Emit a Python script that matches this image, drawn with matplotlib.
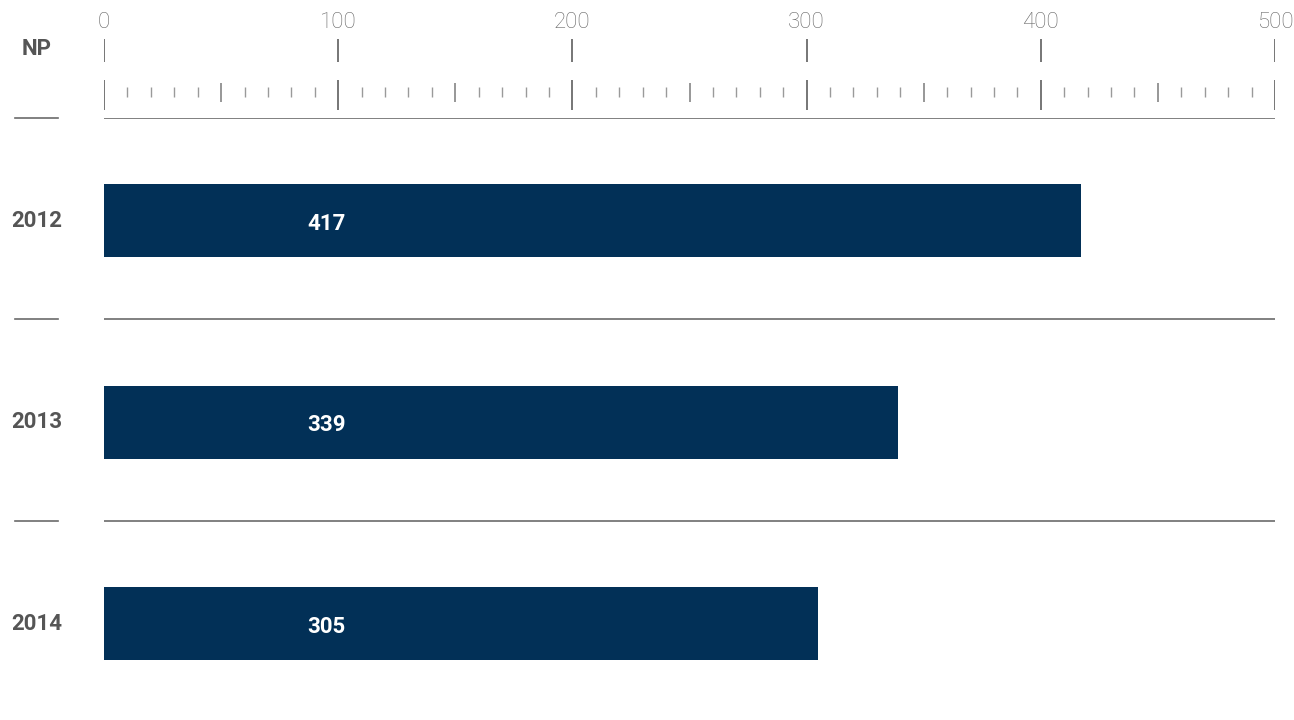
import matplotlib
matplotlib.use('Agg')
import matplotlib.pyplot as plt
import matplotlib.transforms as mtransforms
import numpy as np

plt.rcParams['font.family'] = ['Roboto', 'DejaVu Sans']

years = ['2012', '2013', '2014']
values = [417, 339, 305]
unit_label = 'NP'
major_ticks = [0, 100, 200, 300, 400, 500]

bar_color = '#023057'
line_color = '#6b6b6b'
text_color = '#555555'

W, H = 1294, 720
fig = plt.figure(figsize=(W / 100, H / 100), dpi=100)

x0, x1 = 104, 1275          # pixel span of the value axis
top = 118                   # baseline under the ruler
row_h = 201.5               # height of one year band
nudge = 2 / row_h           # bars sit a touch below the band centre

# main bar axes, rows counted downward from the baseline
ax = fig.add_axes([x0 / W, 0, (x1 - x0) / W, (H - top) / H])
ax.set_xlim(0, 500)
ax.set_ylim(-0.5 + (H - top) / row_h, -0.5)
ax.axis('off')

pos = np.arange(len(years))
ax.barh(pos + nudge, values, height=73 / row_h, color=bar_color)
for p, v in zip(pos, values):
    ax.text(95, p + 2.5 * nudge, str(v), color='white', fontsize=16,
            fontweight='bold', ha='center', va='center')

# separators between rows plus the short marks on the left
sep = np.arange(len(years)) - 0.5
ax.hlines(sep, 0, 500, color=line_color, lw=1.2)
blend = mtransforms.blended_transform_factory(fig.transFigure, ax.transData)
for s in sep:
    ax.plot([15 / W, 58 / W], [s, s], color=line_color, lw=1.2,
            transform=blend, clip_on=False)
for p, y in zip(pos, years):
    ax.text(37 / W, p + nudge, y, transform=blend, color=text_color,
            fontsize=16, fontweight='bold', ha='center', va='center')

# ruler on top, y in pixel rows
rax = fig.add_axes([x0 / W, (H - top) / H, (x1 - x0) / W, top / H])
rax.set_xlim(0, 500)
rax.set_ylim(top, 0)
rax.axis('off')

minor = [t for t in range(0, 501, 10) if t % 50]
mids = [t for t in range(50, 501, 100)]
rax.vlines(minor, 87, 97, color='#9a9a9a', lw=1.0)
rax.vlines(mids, 83, 102, color='#7a7a7a', lw=1.1)
rax.vlines(major_ticks, 80, 110, color=line_color, lw=1.3)
rax.vlines(major_ticks, 39, 62, color=line_color, lw=1.3)
for t in major_ticks:
    rax.text(t, 22, str(t), color='#666666', fontsize=16, fontweight='light',
             ha='center', va='center')

blend_r = mtransforms.blended_transform_factory(fig.transFigure, rax.transData)
rax.text(37 / W, 49, unit_label, transform=blend_r, color=text_color,
         fontsize=16, fontweight='bold', ha='center', va='center')

fig.savefig('out.png', dpi=100, facecolor='white')
